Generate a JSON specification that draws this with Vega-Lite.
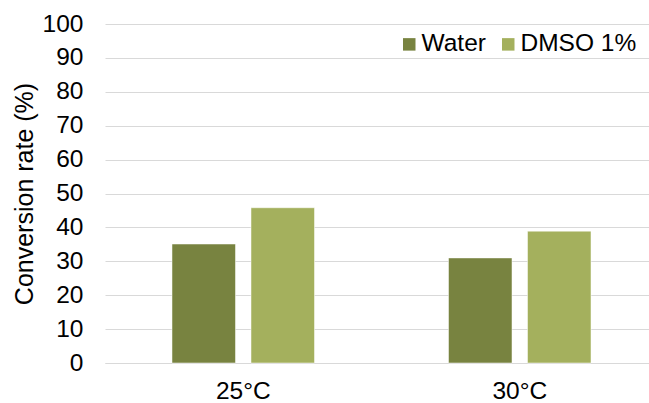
{
  "$schema": "https://vega.github.io/schema/vega-lite/v6.json",
  "width": 553,
  "height": 339,
  "autosize": {"type": "none"},
  "padding": {"left": 105, "top": 24, "right": 0, "bottom": 40},
  "background": "white",
  "data": {
    "values": [
      {"temp": "25°C", "solvent": "Water", "rate": 35.1},
      {"temp": "25°C", "solvent": "DMSO 1%", "rate": 45.8},
      {"temp": "30°C", "solvent": "Water", "rate": 31.0},
      {"temp": "30°C", "solvent": "DMSO 1%", "rate": 38.9}
    ]
  },
  "mark": {"type": "bar", "stroke": "#ffffff", "strokeOpacity": 0.5, "strokeWidth": 1},
  "encoding": {
    "x": {
      "field": "temp", "type": "nominal", "sort": null,
      "scale": {"paddingInner": 0, "paddingOuter": 0},
      "axis": {
        "title": null, "labelAngle": 0, "labelFont": "Liberation Sans", "labelFontSize": 24.5,
        "labelColor": "#000000", "labelPadding": 16, "ticks": false,
        "domain": true, "domainColor": "#d9d9d9", "domainWidth": 1, "grid": false
      }
    },
    "xOffset": {
      "field": "solvent", "type": "nominal", "sort": ["Water", "DMSO 1%"],
      "scale": {"paddingInner": 0.196, "paddingOuter": 0.848}
    },
    "y": {
      "field": "rate", "type": "quantitative",
      "scale": {"domain": [0, 100], "nice": false},
      "axis": {
        "title": "Conversion rate (%)", "titleFont": "Liberation Sans", "titleFontSize": 25,
        "titleFontWeight": "normal", "titleColor": "#000000", "titlePadding": 5,
        "values": [0, 10, 20, 30, 40, 50, 60, 70, 80, 90, 100],
        "labelFont": "Liberation Sans", "labelFontSize": 24.5, "labelColor": "#000000",
        "labelPadding": 22, "ticks": false, "domain": false,
        "grid": true, "gridColor": "#d9d9d9", "gridWidth": 1
      }
    },
    "color": {
      "field": "solvent", "type": "nominal", "sort": ["Water", "DMSO 1%"],
      "scale": {"domain": ["Water", "DMSO 1%"], "range": ["#788340", "#a4b05d"]},
      "legend": {
        "title": null, "orient": "none", "direction": "horizontal",
        "legendX": 292, "legendY": 8,
        "symbolType": "square", "symbolSize": 156, "symbolStrokeWidth": 0,
        "labelFont": "Liberation Sans", "labelFontSize": 24.5, "labelColor": "#000000",
        "labelOffset": 0, "columnPadding": 10, "symbolOffset": 0
      }
    }
  },
  "config": {"view": {"stroke": null}}
}
